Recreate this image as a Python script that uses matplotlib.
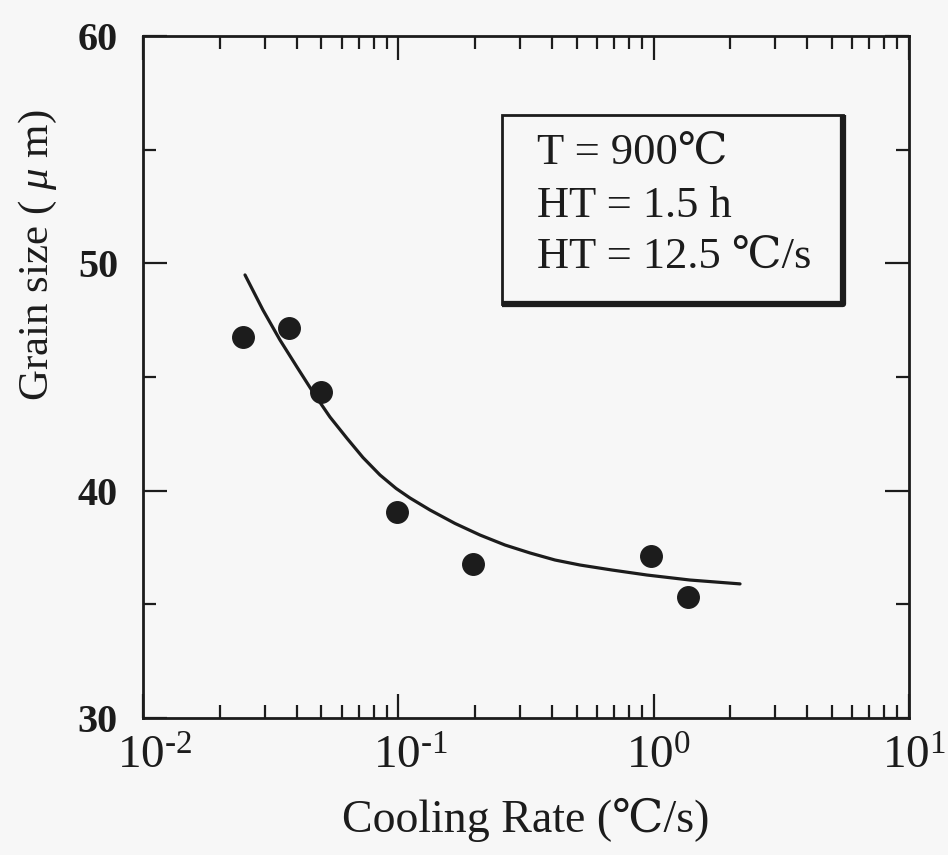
import matplotlib
matplotlib.use("Agg")
import matplotlib.pyplot as plt
from matplotlib.patches import Rectangle
from matplotlib.ticker import LogLocator, FuncFormatter, MultipleLocator
from matplotlib.transforms import ScaledTranslation
import numpy as np

# measured grain size vs cooling rate
cooling_rate = [0.0247, 0.0374, 0.0497, 0.0986, 0.1967, 0.977, 1.367]
grain_size = [46.75, 47.14, 44.36, 39.08, 36.76, 37.14, 35.34]

# fitted curve
fit_rate = [0.0251, 0.0295, 0.0344, 0.0401, 0.0463, 0.0540, 0.0630, 0.0727,
            0.0848, 0.0980, 0.1111, 0.1331, 0.1667, 0.2089, 0.2618, 0.3281,
            0.4111, 0.5151, 0.6872, 0.9422, 1.388, 2.180]
fit_size = [49.49, 47.95, 46.63, 45.44, 44.34, 43.24, 42.30, 41.46,
            40.69, 40.10, 39.68, 39.15, 38.56, 38.05, 37.61, 37.26,
            36.95, 36.73, 36.51, 36.29, 36.07, 35.90]

info_lines = ["T = 900℃", "HT = 1.5 h", "HT = 12.5 ℃/s"]

ink = "#1c1c1c"
serif = ["Liberation Serif", "DejaVu Serif", "Noto Sans CJK JP"]

plt.rcParams["font.family"] = serif
plt.rcParams["mathtext.fontset"] = "custom"
plt.rcParams["mathtext.rm"] = "Liberation Serif"
plt.rcParams["mathtext.it"] = "Liberation Serif:italic"

fig = plt.figure(figsize=(9.48, 8.55), dpi=100, facecolor="#f7f7f7")
ax = fig.add_axes([0.1508, 0.1602, 0.808, 0.7977])
ax.set_facecolor("#f7f7f7")

ax.plot(fit_rate, fit_size, color=ink, lw=2.3, solid_capstyle="round", solid_joinstyle="round")
ax.plot(cooling_rate, grain_size, "o", color=ink, ms=15.5, lw=0)

ax.set_xscale("log")
ax.set_xlim(1e-2, 1e1)
ax.set_ylim(30, 60)


def pow10(v, pos):
    e = int(round(np.log10(v)))
    sign = "\\text{-}" if e < 0 else ""
    return "$\\mathdefault{10^{%s%d}}$" % (sign, abs(e))


ax.xaxis.set_major_locator(LogLocator(base=10))
ax.xaxis.set_minor_locator(LogLocator(base=10, subs=range(2, 10)))
ax.xaxis.set_major_formatter(FuncFormatter(pow10))
ax.yaxis.set_major_locator(MultipleLocator(10))
ax.yaxis.set_minor_locator(MultipleLocator(5))

for s in ax.spines.values():
    s.set_linewidth(2.0)
    s.set_color(ink)

ax.tick_params(which="both", direction="in", top=True, right=True, colors=ink, width=1.6)
ax.tick_params(which="major", length=17)
ax.tick_params(which="minor", length=9.5)
ax.tick_params(axis="x", which="major", labelsize=34, pad=13)
ax.tick_params(axis="y", which="major", labelsize=29, pad=18)

# keep the "10" centred on the tick, exponent hangs to the right
fig.canvas.draw()
for lab in ax.get_xticklabels():
    dx = 12 if "text" in lab.get_text() else 5
    lab.set_transform(lab.get_transform() + ScaledTranslation(dx / 100, 0, fig.dpi_scale_trans))
for lab in ax.get_yticklabels():
    lab.set_fontweight("bold")

ax.set_xlabel("Cooling Rate (℃/s)", fontsize=33, color=ink, labelpad=14)
ax.set_ylabel("Grain size ( $\\mu$ m)", fontsize=31, color=ink)
ax.yaxis.set_label_coords(-0.11, 0.679)

# info box with a heavier right / bottom edge
bx, by, bw, bh = 0.469, 0.607, 0.445, 0.277
ax.add_patch(Rectangle((bx, by), bw, bh, transform=ax.transAxes,
                       fill=False, lw=2.0, ec=ink, zorder=4))
ax.plot([bx, bx + bw, bx + bw], [by, by, by + bh], transform=ax.transAxes,
        color=ink, lw=4.5, solid_capstyle="butt", zorder=4)
for i, line in enumerate(info_lines):
    ax.text(0.515, 0.811 - i * 0.076, line, transform=ax.transAxes,
            fontsize=32, color=ink, va="baseline", ha="left")

fig.savefig("out.png", dpi=100, facecolor=fig.get_facecolor())
